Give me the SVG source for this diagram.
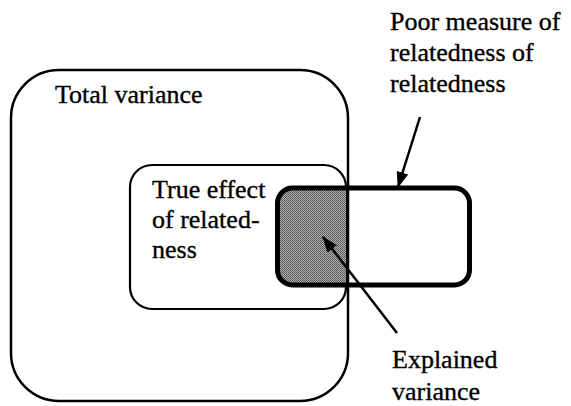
<svg xmlns="http://www.w3.org/2000/svg" width="571" height="406" viewBox="0 0 571 406">
  <style>
    text { font-family: 'Liberation Serif', 'DejaVu Serif', serif; font-size: 26px; fill: #000; stroke: #000; stroke-width: 0.35; }
    .box { fill: none; stroke: #000; }
    .conn { stroke: #000; stroke-width: 2.5; fill: none; marker-end: url(#ah); }
  </style>
  <defs>
    <marker id="ah" markerUnits="userSpaceOnUse" markerWidth="16" markerHeight="12" refX="15" refY="6" orient="auto">
      <path d="M0,0 L16,6 L0,12 Z" fill="#000"/>
    </marker>
    <pattern id="dots" width="2" height="2" patternUnits="userSpaceOnUse">
      <rect width="2" height="2" fill="#b0b0b0"/>
      <rect width="1" height="1" fill="#505050"/>
      <rect x="1" y="1" width="1" height="1" fill="#666"/>
    </pattern>
    <clipPath id="innerClip">
      <rect x="130" y="165" width="216" height="144" rx="22"/>
    </clipPath>
  </defs>
  <rect width="571" height="406" fill="#fff"/>

  <g id="total-variance">
    <rect class="box" x="11" y="70" width="337" height="331" rx="48" stroke-width="2.5"/>
    <text x="55" y="103">Total variance</text>
  </g>

  <g id="true-effect">
    <rect class="box" x="130" y="165" width="216" height="144" rx="22" stroke-width="2.2"/>
    <text x="152" y="198">True effect</text>
    <text x="152" y="228">of related-</text>
    <text x="152" y="258">ness</text>
  </g>

  <g id="explained-variance-area">
    <rect x="277" y="188" width="193" height="97" rx="15" fill="url(#dots)" clip-path="url(#innerClip)"/>
  </g>

  <g id="poor-measure">
    <line x1="348" y1="165" x2="348" y2="310" stroke="#000" stroke-width="2"/>
    <rect class="box" x="277.5" y="188" width="192" height="97" rx="15" stroke-width="5"/>
    <text x="390" y="30">Poor measure of</text>
    <text x="390" y="61">relatedness of</text>
    <text x="390" y="92">relatedness</text>
  </g>

  <g id="explained-variance">
    <text x="392" y="368">Explained</text>
    <text x="392" y="400">variance</text>
  </g>

  <g id="connectors">
    <line class="conn" x1="420" y1="117" x2="398" y2="187"/>
    <line class="conn" x1="397" y1="333" x2="323" y2="237"/>
  </g>
</svg>
